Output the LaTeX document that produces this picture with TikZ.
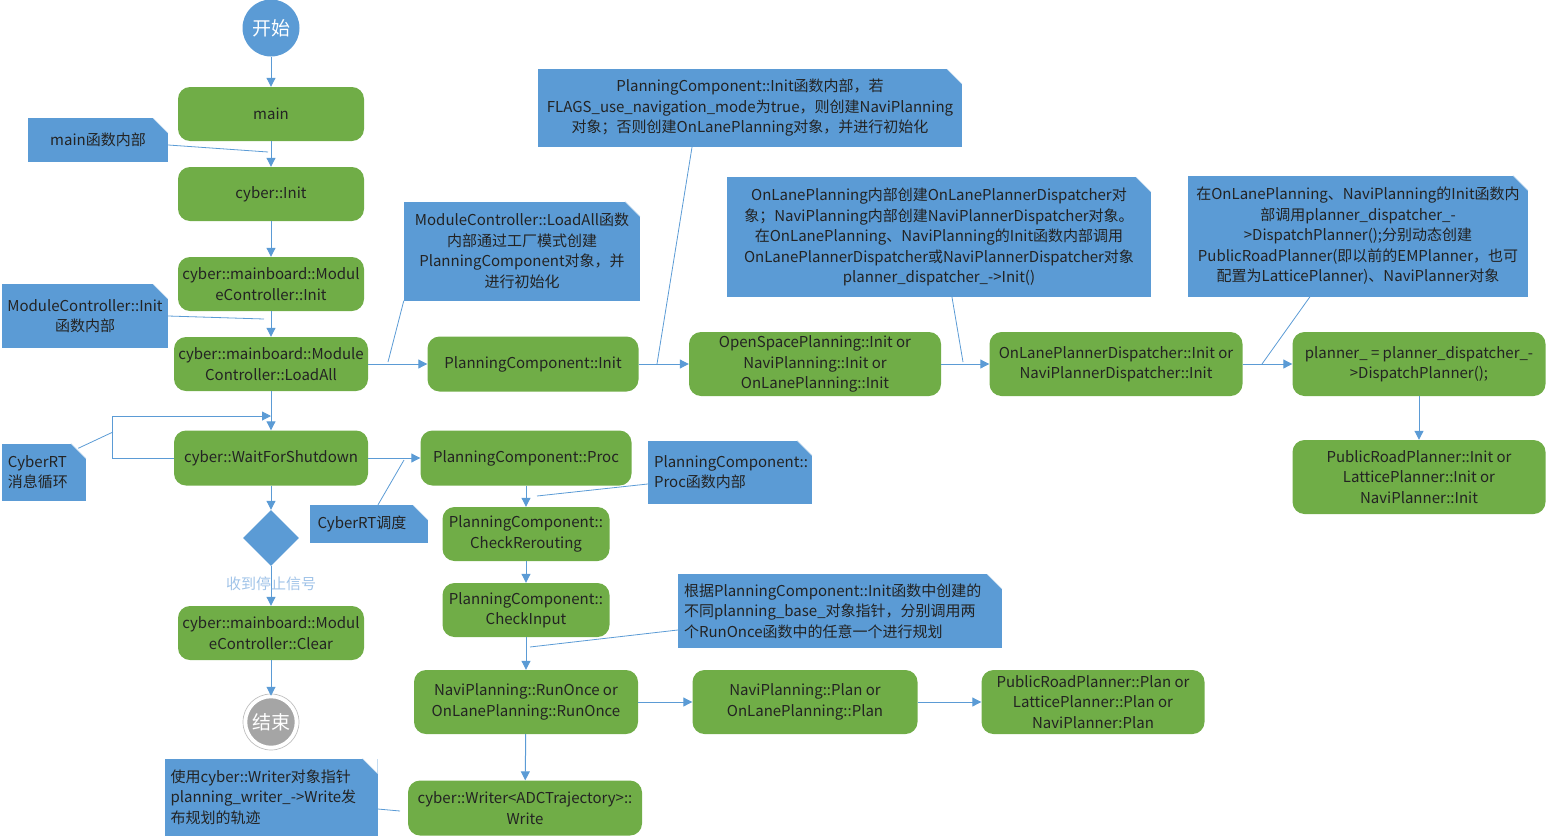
\documentclass[tikz,border=0pt]{standalone}
\usepackage{fontspec}
\setmainfont{Noto Sans CJK SC}
\usetikzlibrary{arrows.meta,positioning,calc,shapes.geometric}
\definecolor{procgreen}{RGB}{112,173,71}
\definecolor{noteblue}{RGB}{91,155,213}
\definecolor{linkblue}{RGB}{91,155,213}
\definecolor{endgray}{RGB}{165,165,165}
\definecolor{textdark}{RGB}{35,35,35}
\definecolor{guardblue}{RGB}{160,195,232}
\newcommand{\boxfont}{\fontsize{15}{20.5}\selectfont}
\newcommand{\termfont}{\fontsize{19}{22}\selectfont}
\tikzset{
  procbox/.style={
    fill=procgreen,rounded corners=12pt,align=center,minimum height=54pt,
    inner sep=3pt,text=textdark,font=\boxfont
  },
  notebox/.style={
    fill=noteblue,align=center,inner sep=5pt,text=textdark,font=\boxfont,
    path picture={
      \fill[white] ([xshift=-15pt]path picture bounding box.north east)
        -- (path picture bounding box.north east)
        -- ([yshift=-15pt]path picture bounding box.north east) -- cycle;
      \draw[noteblue!35,line width=0.6pt]
        ([xshift=-15pt]path picture bounding box.north east)
        -- ([yshift=-15pt]path picture bounding box.north east);
    }
  },
  leftnote/.style={notebox,align=left},
  startnode/.style={circle,fill=noteblue,minimum size=57pt,inner sep=0pt,
    text=white,font=\termfont},
  endnode/.style={circle,fill=endgray,draw=white,line width=2.5pt,minimum size=50pt,
    inner sep=0pt,text=white,font=\termfont},
  endring/.style={draw=black!25,line width=0.7pt},
  decision/.style={diamond,fill=noteblue,minimum width=56pt,minimum height=56pt,inner sep=0pt},
  flowarrow/.style={-{Triangle[length=9pt,width=9pt]},draw=linkblue,line width=1pt},
  calloutline/.style={draw=linkblue,line width=0.8pt}
}
\begin{document}
\begin{tikzpicture}[x=1pt,y=-1pt]
  \useasboundingbox (0,0) rectangle (1548,838);
  % main column
  \node[startnode] (start) at (271,28) {开始};
  \node[procbox,minimum width=186pt] (main) at (271,114) {main};
  \node[procbox,minimum width=186pt] (cinit) at (271,194) {cyber::Init};
  \node[procbox,minimum width=186pt] (mcinit) at (271,284) {cyber::mainboard::Modul\\eController::Init};
  \node[procbox,minimum width=194pt] (loadall) at (271,364) {cyber::mainboard::Module\\Controller::LoadAll};
  \node[procbox,minimum width=194pt,minimum height=55pt] (wait) at (271,458) {cyber::WaitForShutdown};
  \node[decision] (stop) at (271,538) {};
  \node[procbox,minimum width=186pt] (clear) at (271,633) {cyber::mainboard::Modul\\eController::Clear};
  \node[endnode] (finish) at (271,722) {结束};
  \draw[endring] (finish.center) circle (28pt);
  % init chain
  \node[procbox,minimum width=211pt,minimum height=55pt] (pcinit) at (533,364) {PlanningComponent::Init};
  \node[procbox,minimum width=252pt,minimum height=64pt] (planinit) at (815,364) {OpenSpacePlanning::Init or\\NaviPlanning::Init or\\OnLanePlanning::Init};
  \node[procbox,minimum width=253pt,minimum height=64pt] (dispinit) at (1116,364) {OnLanePlannerDispatcher::Init or\\NaviPlannerDispatcher::Init};
  \node[procbox,minimum width=253pt,minimum height=64pt] (dispatch) at (1419,364) {planner\_ = planner\_dispatcher\_-\\>DispatchPlanner();};
  \node[procbox,minimum width=253pt,minimum height=74pt] (plinit) at (1419,477) {PublicRoadPlanner::Init or\\LatticePlanner::Init or\\NaviPlanner::Init};
  % proc chain
  \node[procbox,minimum width=211pt,minimum height=55pt] (proc) at (526,458) {PlanningComponent::Proc};
  \node[procbox,minimum width=167pt] (rerout) at (526,534) {PlanningComponent::\\CheckRerouting};
  \node[procbox,minimum width=167pt] (chkin) at (526,610) {PlanningComponent::\\CheckInput};
  \node[procbox,minimum width=224pt,minimum height=64pt] (runonce) at (526,702) {NaviPlanning::RunOnce or\\OnLanePlanning::RunOnce};
  \node[procbox,minimum width=225pt,minimum height=64pt] (plan) at (805,702) {NaviPlanning::Plan or\\OnLanePlanning::Plan};
  \node[procbox,minimum width=223pt,minimum height=64pt] (plplan) at (1093,702) {PublicRoadPlanner::Plan or\\LatticePlanner::Plan or\\NaviPlanner:Plan};
  \node[procbox,minimum width=234pt,minimum height=55pt] (writer) at (525,808) {cyber::Writer<ADCTrajectory>::\\Write};
  % notes
  \node[notebox,minimum width=140pt,minimum height=44pt] (nmain) at (98,140) {main函数内部};
  \node[notebox,minimum width=166pt,minimum height=64pt] (nmcinit) at (85,316) {ModuleController::Init\\函数内部};
  \node[leftnote,text width=72pt,minimum height=57pt,inner sep=6pt] (nloop) at (44,472) {CyberRT\\消息循环};
  \node[leftnote,minimum width=118pt,minimum height=38pt] (nsched) at (369,524) {CyberRT调度\hspace{14pt}};
  \node[notebox,minimum width=236pt,minimum height=99pt] (nloadall) at (522,251)
    {ModuleController::LoadAll函数\\内部通过工厂模式创建\\PlanningComponent对象，并\\进行初始化};
  \node[notebox,minimum width=424pt,minimum height=78pt] (npcinit) at (750,108)
    {PlanningComponent::Init函数内部，若\\FLAGS\_use\_navigation\_mode为true，则创建NaviPlanning\\对象；否则创建OnLanePlanning对象，并进行初始化};
  \node[notebox,minimum width=424pt,minimum height=120pt] (ndisp) at (939,237)
    {OnLanePlanning内部创建OnLanePlannerDispatcher对\\象；NaviPlanning内部创建NaviPlannerDispatcher对象。\\在OnLanePlanning、NaviPlanning的Init函数内部调用\\OnLanePlannerDispatcher或NaviPlannerDispatcher对象\\planner\_dispatcher\_->Init()};
  \node[notebox,minimum width=340pt,minimum height=121pt] (nplanner) at (1358,236)
    {在OnLanePlanning、NaviPlanning的Init函数内\\部调用planner\_dispatcher\_-\\>DispatchPlanner();分别动态创建\\PublicRoadPlanner(即以前的EMPlanner，也可\\配置为LatticePlanner)、NaviPlanner对象};
  \node[leftnote,text width=152pt,minimum height=63pt,inner sep=6pt] (nproc) at (730,472)
    {PlanningComponent::\\Proc函数内部};
  \node[leftnote,text width=312pt,minimum height=74pt,inner sep=6pt] (nrunonce) at (840,611)
    {根据PlanningComponent::Init函数中创建的\\不同planning\_base\_对象指针，分别调用两\\个RunOnce函数中的任意一个进行规划};
  \node[leftnote,text width=201pt,minimum height=77pt,inner sep=6pt] (nwriter) at (271,797)
    {使用cyber::Writer对象指针\\planning\_writer\_->Write发\\布规划的轨迹};
  % main flow
  \draw[flowarrow] (start) -- (main);
  \draw[flowarrow] (main) -- (cinit);
  \draw[flowarrow] (cinit) -- (mcinit);
  \draw[flowarrow] (mcinit) -- (loadall);
  \draw[flowarrow] (loadall) -- (wait);
  \draw[flowarrow] (wait) -- (stop);
  \draw[flowarrow] (stop) -- node[pos=0.45,font=\boxfont,text=guardblue] {收到停止信号} (clear);
  \draw[flowarrow] (clear) -- (finish);
  \coordinate (loopin) at (271,416);
  \draw[flowarrow] (wait.west) -- ++(-61,0) |- (loopin);
  \draw[flowarrow] (loadall) -- (pcinit);
  \draw[flowarrow] (pcinit) -- (planinit);
  \draw[flowarrow] (planinit) -- (dispinit);
  \draw[flowarrow] (dispinit) -- (dispatch);
  \draw[flowarrow] (dispatch) -- (plinit);
  \draw[flowarrow] (wait) -- (proc);
  \draw[flowarrow] (proc) -- (rerout);
  \draw[flowarrow] (rerout) -- (chkin);
  \draw[flowarrow] (chkin) -- (runonce);
  \draw[flowarrow] (runonce) -- (plan);
  \draw[flowarrow] (plan) -- (plplan);
  \draw[flowarrow] (runonce) -- (writer);
  % callouts
  \coordinate (cmain) at (268,152);
  \coordinate (cmcinit) at (264,319);
  \coordinate (cloop) at (113,432);
  \coordinate (csched) at (404,460);
  \coordinate (cloadall) at (388,362);
  \coordinate (cpcinit) at (657,364);
  \coordinate (cdisp) at (963,362);
  \coordinate (cplanner) at (1262,364);
  \coordinate (cproc) at (537,496);
  \coordinate (crunonce) at (530,647);
  \coordinate (cwriter) at (400,811);
  \draw[calloutline] ($(nmain.east)+(0,5)$) -- (cmain);
  \draw[calloutline] (nmcinit.east) -- (cmcinit);
  \draw[calloutline] ($(nloop.north east)+(-8,5)$) -- (cloop);
  \draw[calloutline] ($(nsched.north)+(9,0)$) -- (csched);
  \draw[calloutline] (nloadall.south west) -- (cloadall);
  \draw[calloutline] ($(npcinit.south)+(-58,0)$) -- (cpcinit);
  \draw[calloutline] ($(ndisp.south)+(13,0)$) -- (cdisp);
  \draw[calloutline] ($(nplanner.south)+(-48,0)$) -- (cplanner);
  \draw[calloutline] ($(nproc.west)+(0,12)$) -- (cproc);
  \draw[calloutline] ($(nrunonce.west)+(0,19)$) -- (crunonce);
  \draw[calloutline] ($(nwriter.east)+(0,12)$) -- (cwriter);
\end{tikzpicture}
\end{document}
